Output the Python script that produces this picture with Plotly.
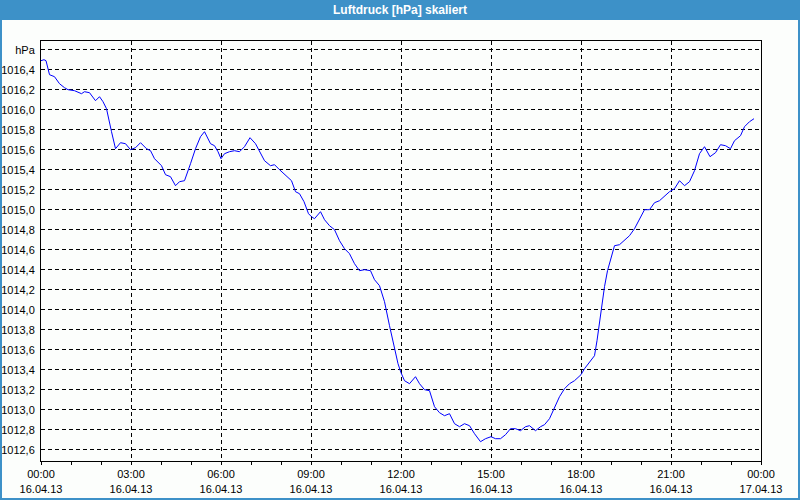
import plotly.graph_objects as go

# time in minutes since 16.04.13 00:00, pressure in hPa
minutes = [0, 6, 10, 17, 27, 37, 47, 54, 67, 81, 87, 97, 109, 117, 124, 131, 141, 149, 159, 169,
           179, 189, 199, 211, 219, 227, 241, 249, 259, 269, 277, 287, 299, 309, 319, 327, 339, 347,
           354, 360, 367, 377, 387, 397, 407, 418, 429, 437, 447, 459, 467, 477, 491, 501, 509, 517,
           526, 535, 541, 547, 559, 567, 577, 587, 597, 607, 617, 627, 637, 647, 659, 667, 677, 687,
           697, 707, 714, 720, 727, 737, 749, 757, 767, 777, 787, 797, 807, 817, 827, 837, 847, 857,
           867, 879, 889, 900, 909, 919, 929, 939, 949, 959, 969, 977, 989, 999, 1007, 1017, 1027,
           1037, 1047, 1057, 1067, 1080, 1087, 1097, 1107, 1112, 1117, 1122, 1127, 1133, 1139, 1147,
           1157, 1167, 1177, 1187, 1197, 1207, 1217, 1227, 1237, 1247, 1257, 1267, 1277, 1287, 1297,
           1307, 1317, 1327, 1338, 1349, 1359, 1369, 1379, 1387, 1399, 1407, 1417, 1426]
pressure = [1016.49, 1016.50, 1016.49, 1016.35, 1016.33, 1016.26, 1016.22, 1016.20, 1016.19, 1016.16,
            1016.18, 1016.17, 1016.09, 1016.13, 1016.08, 1016.01, 1015.78, 1015.61, 1015.67, 1015.66,
            1015.60, 1015.62, 1015.67, 1015.61, 1015.59, 1015.51, 1015.44, 1015.35, 1015.33, 1015.24,
            1015.28, 1015.29, 1015.46, 1015.61, 1015.73, 1015.78, 1015.66, 1015.64, 1015.58, 1015.51,
            1015.56, 1015.58, 1015.59, 1015.58, 1015.63, 1015.72, 1015.66, 1015.58, 1015.49, 1015.44,
            1015.45, 1015.40, 1015.34, 1015.29, 1015.18, 1015.16, 1015.08, 1014.96, 1014.93, 1014.91,
            1014.98, 1014.90, 1014.84, 1014.80, 1014.69, 1014.61, 1014.56, 1014.46, 1014.39, 1014.40,
            1014.39, 1014.30, 1014.24, 1014.08, 1013.84, 1013.61, 1013.46, 1013.37, 1013.29, 1013.26,
            1013.33, 1013.26, 1013.20, 1013.19, 1013.03, 1012.97, 1012.94, 1012.96, 1012.86, 1012.83,
            1012.86, 1012.84, 1012.76, 1012.68, 1012.71, 1012.73, 1012.71, 1012.71, 1012.75, 1012.81,
            1012.81, 1012.79, 1012.83, 1012.84, 1012.79, 1012.83, 1012.85, 1012.91, 1013.02, 1013.13,
            1013.21, 1013.26, 1013.29, 1013.35, 1013.41, 1013.48, 1013.54, 1013.69, 1013.89, 1014.06,
            1014.23, 1014.39, 1014.51, 1014.64, 1014.65, 1014.70, 1014.74, 1014.81, 1014.91, 1015.00,
            1015.00, 1015.07, 1015.09, 1015.14, 1015.18, 1015.21, 1015.29, 1015.24, 1015.28, 1015.39,
            1015.56, 1015.63, 1015.53, 1015.57, 1015.65, 1015.64, 1015.61, 1015.69, 1015.74, 1015.83,
            1015.88, 1015.91]

x_tickvals = [0, 180, 360, 540, 720, 900, 1080, 1260, 1440]
x_ticktext = ["00:00<br>16.04.13", "03:00<br>16.04.13", "06:00<br>16.04.13", "09:00<br>16.04.13",
              "12:00<br>16.04.13", "15:00<br>16.04.13", "18:00<br>16.04.13", "21:00<br>16.04.13",
              "00:00<br>17.04.13"]
y_tickvals = [1012.6, 1012.8, 1013.0, 1013.2, 1013.4, 1013.6, 1013.8, 1014.0, 1014.2, 1014.4,
              1014.6, 1014.8, 1015.0, 1015.2, 1015.4, 1015.6, 1015.8, 1016.0, 1016.2, 1016.4, 1016.6]
y_ticktext = ["1012,6", "1012,8", "1013,0", "1013,2", "1013,4", "1013,6", "1013,8", "1014,0",
              "1014,2", "1014,4", "1014,6", "1014,8", "1015,0", "1015,2", "1015,4", "1015,6",
              "1015,8", "1016,0", "1016,2", "1016,4", "hPa"]
title_text = "Luftdruck [hPa] skaliert"

BLUE = "#3d91c8"
FONT = "Liberation Sans"

fig = go.Figure()
fig.add_trace(go.Scatter(x=minutes, y=pressure, mode="lines",
                         line=dict(color="#0000ff", width=1), hoverinfo="skip"))

L, R, T, B = 41, 39, 41, 39
W, H = 800, 500
pw, ph = W - L - R, H - T - B


def px(x):
    return (x - L) / pw


def py(y):
    return (H - B - y) / ph


fig.update_layout(
    width=W, height=H,
    margin=dict(l=L, r=R, t=T, b=B, pad=0, autoexpand=False),
    paper_bgcolor="#fcfefc", plot_bgcolor="#fcfefc",
    showlegend=False,
    font=dict(family=FONT, size=11, color="#000000"),
    xaxis=dict(range=[0, 1440], tickvals=x_tickvals, ticktext=x_ticktext,
               showgrid=True, gridcolor="#000000", griddash="4px,3px", gridwidth=1,
               showline=True, linecolor="#000000", linewidth=1, mirror=True,
               ticks="outside", ticklen=3, tickcolor="#000000",
               minor=dict(dtick=60, tick0=0, ticks="outside", ticklen=3, tickcolor="#000000", showgrid=False),
               zeroline=False, fixedrange=True, automargin=False),
    yaxis=dict(range=[1012.487, 1016.687], tickvals=y_tickvals, ticktext=y_ticktext,
               showgrid=True, gridcolor="#000000", griddash="4px,3px", gridwidth=1,
               showline=True, linecolor="#000000", linewidth=1, mirror=True,
               ticks="", ticklabelstandoff=3,
               zeroline=False, fixedrange=True, automargin=False),
    shapes=[
        dict(type="rect", xref="paper", yref="paper", x0=px(0), x1=px(800), y0=py(20), y1=py(0),
             fillcolor=BLUE, line=dict(width=0), layer="above"),
        dict(type="rect", xref="paper", yref="paper", x0=px(1), x1=px(799), y0=py(499), y1=py(1),
             fillcolor="rgba(0,0,0,0)", line=dict(color=BLUE, width=2), layer="above"),
    ],
    annotations=[
        dict(text="<b>" + title_text + "</b>", xref="paper", yref="paper", x=px(400), y=py(10),
             xanchor="center", yanchor="middle", showarrow=False,
             font=dict(family=FONT, size=12, color="#ffffff")),
    ],
)

fig.write_html("out.html")
